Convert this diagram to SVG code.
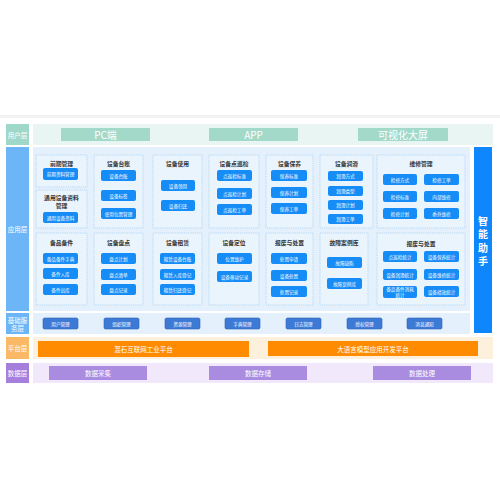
<svg xmlns="http://www.w3.org/2000/svg" width="500" height="500" viewBox="0 0 500 500">
<style>
text{font-family:"Noto Sans CJK SC","Noto Sans",sans-serif;text-anchor:middle;dominant-baseline:central}
.lbl{font-size:6.5px;fill:#fff}
.top{fill:#a2d9c9}
.topt{font-size:10px;fill:#fff}
.mod{fill:#eaf4fd;stroke:#a9d0f2;stroke-width:0.8;stroke-dasharray:1.2 1}
.tt{font-size:5.8px;font-weight:bold;fill:#333}
.btn{fill:#168cf7}
.bt{font-size:4.6px;fill:#fff}
.svc{fill:#3d7ad6;stroke:#2e63b8;stroke-width:0.6}
.org{fill:#ff8c00}
.ot{font-size:6.5px;fill:#fff}
.pur{fill:#a98bdf}
</style>
<rect x="0" y="115" width="500" height="3" fill="#f2f2f2"/>
<g id="user-layer">
<rect x="6" y="124" width="23" height="21" fill="#9fd8c9"/>
<text class="lbl" x="17.5" y="134.5">用户层</text>
<rect x="33" y="124" width="460" height="21" fill="#e8f5f2"/>
<rect class="top" x="61" y="128" width="89" height="13"/><text class="topt" x="105.5" y="134.5">PC端</text>
<rect class="top" x="209" y="128" width="89" height="13"/><text class="topt" x="253.5" y="134.5">APP</text>
<rect class="top" x="358" y="128" width="90" height="13"/><text class="topt" x="403" y="134.5">可视化大屏</text>
</g>
<g id="app-layer">
<rect x="6" y="147" width="23" height="164" fill="#6cb6f7"/>
<text class="lbl" x="17.5" y="229">应用层</text>
<rect x="33" y="147" width="437" height="164" fill="#e4f1fc"/>
</g>
<g id="m-qqgl">
<rect class="mod" x="36" y="155" width="51" height="32"/>
<text class="tt" x="61.5" y="163">前期管理</text>
<rect class="btn" x="43" y="168" width="35" height="12" rx="2"/><text class="bt" x="60.5" y="174">前期资料管理</text>
</g>
<g id="m-tysb">
<rect class="mod" x="36" y="190" width="51" height="38"/>
<text class="tt" x="61.5" y="197">通用设备资料</text>
<text class="tt" x="61.5" y="205">管理</text>
<rect class="btn" x="43" y="212" width="35" height="11" rx="2"/><text class="bt" x="60.5" y="217.5">通用设备资料</text>
</g>
<g id="m-bpbj">
<rect class="mod" x="36" y="233" width="51" height="72"/>
<text class="tt" x="61.5" y="242">备品备件</text>
<rect class="btn" x="43" y="253" width="35" height="11" rx="2"/><text class="bt" x="60.5" y="258.5">备品备件字典</text>
<rect class="btn" x="43" y="268" width="35" height="11" rx="2"/><text class="bt" x="60.5" y="273.5">备件入库</text>
<rect class="btn" x="43" y="284" width="35" height="11" rx="2"/><text class="bt" x="60.5" y="289.5">备件出库</text>
</g>
<g id="m-sbtz">
<rect class="mod" x="94" y="155" width="49" height="73"/>
<text class="tt" x="118.5" y="163">设备台账</text>
<rect class="btn" x="101" y="170" width="35" height="11" rx="2"/><text class="bt" x="118.5" y="175.5">设备台账</text>
<rect class="btn" x="101" y="190" width="35" height="11" rx="2"/><text class="bt" x="118.5" y="195.5">设备标签</text>
<rect class="btn" x="101" y="208" width="35" height="11" rx="2"/><text class="bt" x="118.5" y="213.5">使用位置管理</text>
</g>
<g id="m-sbpd">
<rect class="mod" x="94" y="233" width="49" height="72"/>
<text class="tt" x="118.5" y="242">设备盘点</text>
<rect class="btn" x="101" y="253" width="35" height="11" rx="2"/><text class="bt" x="118.5" y="258.5">盘点计划</text>
<rect class="btn" x="101" y="269" width="35" height="11" rx="2"/><text class="bt" x="118.5" y="274.5">盘点清单</text>
<rect class="btn" x="101" y="284" width="35" height="11" rx="2"/><text class="bt" x="118.5" y="289.5">盘点记录</text>
</g>
<g id="m-sbsy">
<rect class="mod" x="153" y="155" width="49" height="73"/>
<text class="tt" x="177.5" y="163">设备使用</text>
<rect class="btn" x="161" y="180" width="34" height="11" rx="2"/><text class="bt" x="178" y="185.5">设备领用</text>
<rect class="btn" x="161" y="200" width="34" height="11" rx="2"/><text class="bt" x="178" y="205.5">设备归还</text>
</g>
<g id="m-sbzl">
<rect class="mod" x="153" y="233" width="49" height="72"/>
<text class="tt" x="177.5" y="242">设备租赁</text>
<rect class="btn" x="160" y="253" width="35" height="11" rx="2"/><text class="bt" x="177.5" y="258.5">租赁设备台账</text>
<rect class="btn" x="160" y="269" width="35" height="11" rx="2"/><text class="bt" x="177.5" y="274.5">租赁入库登记</text>
<rect class="btn" x="160" y="284" width="35" height="11" rx="2"/><text class="bt" x="177.5" y="289.5">租赁归还登记</text>
</g>
<g id="m-dxj">
<rect class="mod" x="209" y="155" width="50" height="73"/>
<text class="tt" x="234" y="163">设备点巡检</text>
<rect class="btn" x="217" y="170" width="35" height="11" rx="2"/><text class="bt" x="234.5" y="175.5">点巡检标准</text>
<rect class="btn" x="217" y="188" width="35" height="11" rx="2"/><text class="bt" x="234.5" y="193.5">点巡检计划</text>
<rect class="btn" x="217" y="204" width="35" height="11" rx="2"/><text class="bt" x="234.5" y="209.5">点巡检工单</text>
</g>
<g id="m-sbdw">
<rect class="mod" x="209" y="233" width="50" height="72"/>
<text class="tt" x="234" y="242">设备定位</text>
<rect class="btn" x="217" y="253" width="35" height="11" rx="2"/><text class="bt" x="234.5" y="258.5">位置维护</text>
<rect class="btn" x="217" y="271" width="35" height="11" rx="2"/><text class="bt" x="234.5" y="276.5">设备移动记录</text>
</g>
<g id="m-sbby">
<rect class="mod" x="266" y="155" width="47" height="73"/>
<text class="tt" x="289.5" y="163">设备保养</text>
<rect class="btn" x="271" y="170" width="36" height="11" rx="2"/><text class="bt" x="289" y="175.5">保养标准</text>
<rect class="btn" x="271" y="187" width="36" height="11" rx="2"/><text class="bt" x="289" y="192.5">保养计划</text>
<rect class="btn" x="271" y="203" width="36" height="11" rx="2"/><text class="bt" x="289" y="208.5">保养工单</text>
</g>
<g id="m-bfcz">
<rect class="mod" x="266" y="233" width="47" height="72"/>
<text class="tt" x="289.5" y="242">报废与处置</text>
<rect class="btn" x="271" y="253" width="36" height="11" rx="2"/><text class="bt" x="289" y="258.5">处置申请</text>
<rect class="btn" x="271" y="270" width="36" height="11" rx="2"/><text class="bt" x="289" y="275.5">设备处置</text>
<rect class="btn" x="271" y="286" width="36" height="11" rx="2"/><text class="bt" x="289" y="291.5">处置记录</text>
</g>
<g id="m-sbrh">
<rect class="mod" x="320" y="155" width="53" height="73"/>
<text class="tt" x="346.5" y="163">设备润滑</text>
<rect class="btn" x="328" y="171" width="35" height="10" rx="2"/><text class="bt" x="345.5" y="176">润滑方式</text>
<rect class="btn" x="328" y="186" width="35" height="10" rx="2"/><text class="bt" x="345.5" y="191">润滑类型</text>
<rect class="btn" x="328" y="200" width="35" height="10" rx="2"/><text class="bt" x="345.5" y="205">润滑计划</text>
<rect class="btn" x="328" y="214" width="35" height="10" rx="2"/><text class="bt" x="345.5" y="219">润滑工单</text>
</g>
<g id="m-gzal">
<rect class="mod" x="320" y="233" width="48" height="72"/>
<text class="tt" x="344" y="242">故障案例库</text>
<rect class="btn" x="327" y="257" width="35" height="11" rx="2"/><text class="bt" x="344.5" y="262.5">故障缺陷</text>
<rect class="btn" x="327" y="278" width="35" height="11" rx="2"/><text class="bt" x="344.5" y="283.5">故障案例库</text>
</g>
<g id="m-wxgl">
<rect class="mod" x="377" y="155" width="88" height="73"/>
<text class="tt" x="421" y="163">维修管理</text>
<rect class="btn" x="383" y="174" width="34" height="11" rx="2"/><text class="bt" x="400" y="179.5">检修方式</text>
<rect class="btn" x="424" y="174" width="35" height="11" rx="2"/><text class="bt" x="441.5" y="179.5">检修工单</text>
<rect class="btn" x="383" y="191" width="34" height="11" rx="2"/><text class="bt" x="400" y="196.5">检修标准</text>
<rect class="btn" x="424" y="191" width="35" height="11" rx="2"/><text class="bt" x="441.5" y="196.5">内部维修</text>
<rect class="btn" x="383" y="208" width="34" height="11" rx="2"/><text class="bt" x="400" y="213.5">检修计划</text>
<rect class="btn" x="424" y="208" width="35" height="11" rx="2"/><text class="bt" x="441.5" y="213.5">委外维修</text>
</g>
<g id="m-tj">
<rect class="mod" x="377" y="233" width="88" height="72"/>
<text class="tt" x="421" y="243">报废与处置</text>
<rect class="btn" x="383" y="251" width="34" height="11" rx="2"/><text class="bt" x="400" y="256.5">点巡检统计</text>
<rect class="btn" x="424" y="251" width="35" height="11" rx="2"/><text class="bt" x="441.5" y="256.5">设备保养统计</text>
<rect class="btn" x="383" y="269" width="34" height="11" rx="2"/><text class="bt" x="400" y="274.5">设备润滑统计</text>
<rect class="btn" x="424" y="269" width="35" height="11" rx="2"/><text class="bt" x="441.5" y="274.5">设备维修统计</text>
<rect class="btn" x="383" y="286" width="34" height="12" rx="2"/><text class="bt" x="400" y="289">备品备件消耗</text><text class="bt" x="400" y="295">统计</text>
<rect class="btn" x="424" y="286" width="35" height="11" rx="2"/><text class="bt" x="441.5" y="291.5">设备绩效统计</text>
</g>
<g id="assistant">
<rect x="474" y="147" width="18" height="186" fill="#0d87fb"/>
<text x="483" y="220" style="font-size:10px;font-weight:bold;fill:#fff">智</text>
<text x="483" y="233.5" style="font-size:10px;font-weight:bold;fill:#fff">能</text>
<text x="483" y="247" style="font-size:10px;font-weight:bold;fill:#fff">助</text>
<text x="483" y="260.5" style="font-size:10px;font-weight:bold;fill:#fff">手</text>
</g>
<g id="service-layer">
<rect x="6" y="313" width="23" height="21" fill="#6cb6f7"/>
<text class="lbl" x="17.5" y="319.5">基础服</text>
<text class="lbl" x="17.5" y="328">务层</text>
<rect x="33" y="313" width="437" height="21" fill="#e4f1fc"/>
<rect class="svc" x="43" y="318" width="35" height="11" rx="1.5"/><text class="bt" x="60.5" y="323.5">用户管理</text>
<rect class="svc" x="104" y="318" width="35" height="11" rx="1.5"/><text class="bt" x="121.5" y="323.5">组织管理</text>
<rect class="svc" x="165" y="318" width="35" height="11" rx="1.5"/><text class="bt" x="182.5" y="323.5">资源管理</text>
<rect class="svc" x="225" y="318" width="35" height="11" rx="1.5"/><text class="bt" x="242.5" y="323.5">字典管理</text>
<rect class="svc" x="286" y="318" width="35" height="11" rx="1.5"/><text class="bt" x="303.5" y="323.5">日志管理</text>
<rect class="svc" x="347" y="318" width="35" height="11" rx="1.5"/><text class="bt" x="364.5" y="323.5">授权管理</text>
<rect class="svc" x="407" y="318" width="35" height="11" rx="1.5"/><text class="bt" x="424.5" y="323.5">消息通知</text>
</g>
<g id="platform-layer">
<rect x="6" y="337" width="23" height="22" fill="#fbb865"/>
<text class="lbl" x="17.5" y="348">平台层</text>
<rect x="33" y="337" width="460" height="22" fill="#fdf0dc"/>
<rect class="org" x="38" y="341" width="211" height="16"/><text class="ot" x="143.5" y="349">混石互联网工业平台</text>
<rect class="org" x="268" y="341" width="210" height="15"/><text class="ot" x="373" y="348.5">大语言模型应用开发平台</text>
</g>
<g id="data-layer">
<rect x="6" y="363" width="23" height="20" fill="#a57fdb"/>
<text class="lbl" x="17.5" y="373">数据层</text>
<rect x="33" y="363" width="460" height="20" fill="#f1e9fb"/>
<rect class="pur" x="49" y="366" width="98" height="14"/><text class="ot" x="98" y="373">数据采集</text>
<rect class="pur" x="209" y="366" width="98" height="14"/><text class="ot" x="258" y="373">数据存储</text>
<rect class="pur" x="373" y="366" width="98" height="14"/><text class="ot" x="422" y="373">数据处理</text>
</g>
<g id="connectors"></g>
</svg>
